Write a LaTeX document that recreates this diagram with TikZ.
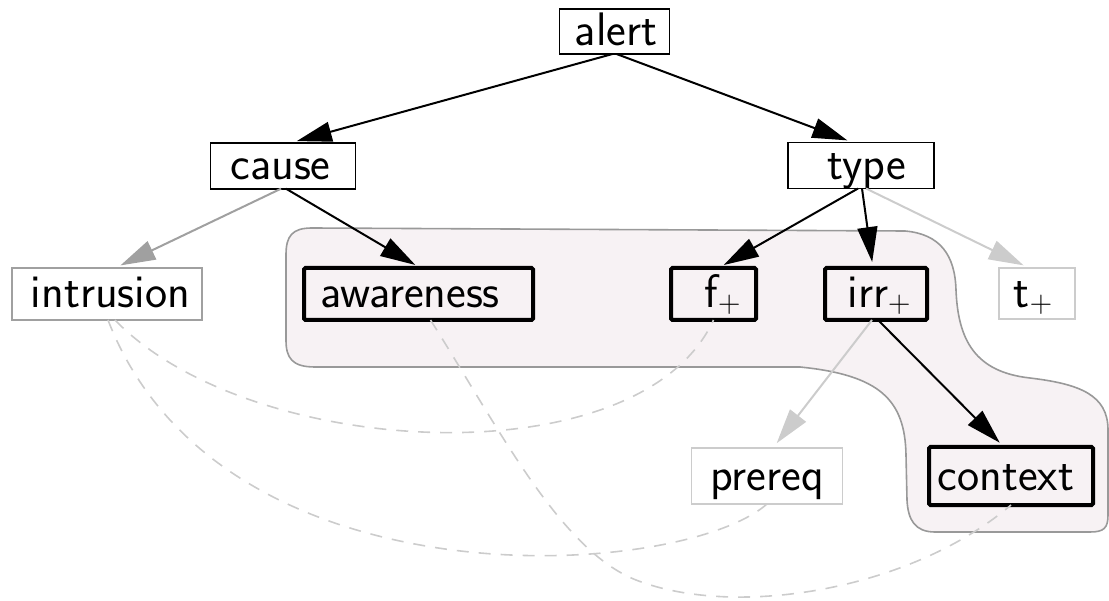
\documentclass[tikz,border=0pt]{standalone}
\usetikzlibrary{arrows.meta}
\definecolor{midgray}{HTML}{A0A0A0}
\definecolor{lightgray}{HTML}{CCCCCC}
\definecolor{blobfill}{HTML}{F7F2F4}
\definecolor{blobline}{HTML}{999999}
\newcommand{\plussub}{\raisebox{-5pt}{\rmfamily\fontsize{31}{31}\selectfont +}}
\tikzset{
  box/.style={draw, rectangle, inner sep=0pt, outer sep=0pt, line width=1.8pt,
    font=\sffamily\fontsize{47}{54}\selectfont, text height=33pt, text depth=5pt},
  focus/.style={box, line width=4pt, rounded corners=1.5pt},
  faint/.style={box, draw=midgray},
  pale/.style={box, draw=lightgray},
  edge/.style={line width=2pt, -{Triangle[length=35pt,width=20pt]}, shorten >=6pt},
  paleedge/.style={edge, draw=lightgray, fill=lightgray},
  faintedge/.style={edge, draw=midgray, fill=midgray},
  link/.style={draw=lightgray, line width=1.6pt, dash pattern=on 12pt off 10pt},
  blob/.style={fill=blobfill, draw=blobline, line width=1.6pt},
}
\begin{document}
\begin{tikzpicture}[x=1pt, y=-1pt]
\useasboundingbox (0,0) rectangle (1109,601);

% shaded region behind the selected nodes
\path[blob] (286,255) .. controls (286,236) and (292,228) .. (312,228)
  -- (905,231)
  .. controls (940,234) and (955,255) .. (956,290)
  .. controls (958,340) and (975,372) .. (1030,378)
  .. controls (1080,384) and (1108,395) .. (1108,430)
  -- (1108,515)
  .. controls (1108,528) and (1104,532) .. (1090,532)
  -- (935,532)
  .. controls (915,532) and (908,520) .. (907,500)
  -- (906,455)
  .. controls (905,400) and (880,375) .. (800,367)
  -- (315,367)
  .. controls (292,367) and (286,358) .. (286,340)
  -- cycle;

% nodes
\node[box, minimum width=110pt, minimum height=45pt] (alert) at (614.5,31.5) {\hspace*{3pt}alert};
\node[box, minimum width=145pt, minimum height=46pt] (cause) at (283,165.7) {cause\hspace*{5pt}};
\node[box, minimum width=146pt, minimum height=46pt] (type) at (861,165.5) {\hspace*{12pt}type};
\node[faint, minimum width=190pt, minimum height=52pt] (intrusion) at (107,294) {\hspace*{7pt}intrusion};
\node[focus, minimum width=229pt, minimum height=52pt] (awareness) at (418.5,294) {awareness\hspace*{17pt}};
\node[focus, minimum width=85pt, minimum height=52pt] (fplus) at (713.5,294) {\hspace*{18pt}f\plussub};
\node[focus, minimum width=102pt, minimum height=52pt] (irr) at (876,294) {\hspace*{6pt}irr\plussub};
\node[pale, minimum width=76pt, minimum height=51pt] (tplus) at (1037,293.5) {t\plussub\hspace*{8pt}};
\node[pale, minimum width=151pt, minimum height=56pt] (prereq) at (767,476) {prereq};
\node[focus, minimum width=164pt, minimum height=58pt] (context) at (1011,476) {context\hspace*{10pt}};

% dashed links
\coordinate (bend) at (636,580);
\draw[link] ([xshift=8pt]intrusion.south) .. controls (250,460) and (640,480) .. (fplus.south);
\draw[link] ([xshift=1pt]intrusion.south) .. controls (220,610) and (680,580) .. (prereq.south);
\draw[link] ([xshift=12pt]awareness.south) .. controls (500,430) and (560,550) .. (bend)
  .. controls (736,619) and (911,590) .. (context.south);

% tree edges
\draw[edge] ([xshift=-2pt]alert.south) -- ([xshift=8pt]cause.north);
\draw[edge] ([xshift=2pt]alert.south) -- ([xshift=-8pt]type.north);
\draw[faintedge] ([xshift=-2pt]cause.south) -- ([xshift=8pt]intrusion.north);
\draw[edge] ([xshift=3pt]cause.south) -- ([xshift=2pt]awareness.north);
\draw[edge] ([xshift=-3pt]type.south) -- ([xshift=5pt]fplus.north);
\draw[edge] ([xshift=1pt]type.south) -- ([xshift=-3pt]irr.north);
\draw[paleedge] ([xshift=5pt]type.south) -- ([xshift=-8pt]tplus.north);
\draw[paleedge] ([xshift=-4pt]irr.south) -- ([xshift=6pt]prereq.north);
\draw[edge] ([xshift=2pt]irr.south) -- ([xshift=-7pt]context.north);
\end{tikzpicture}
\end{document}
